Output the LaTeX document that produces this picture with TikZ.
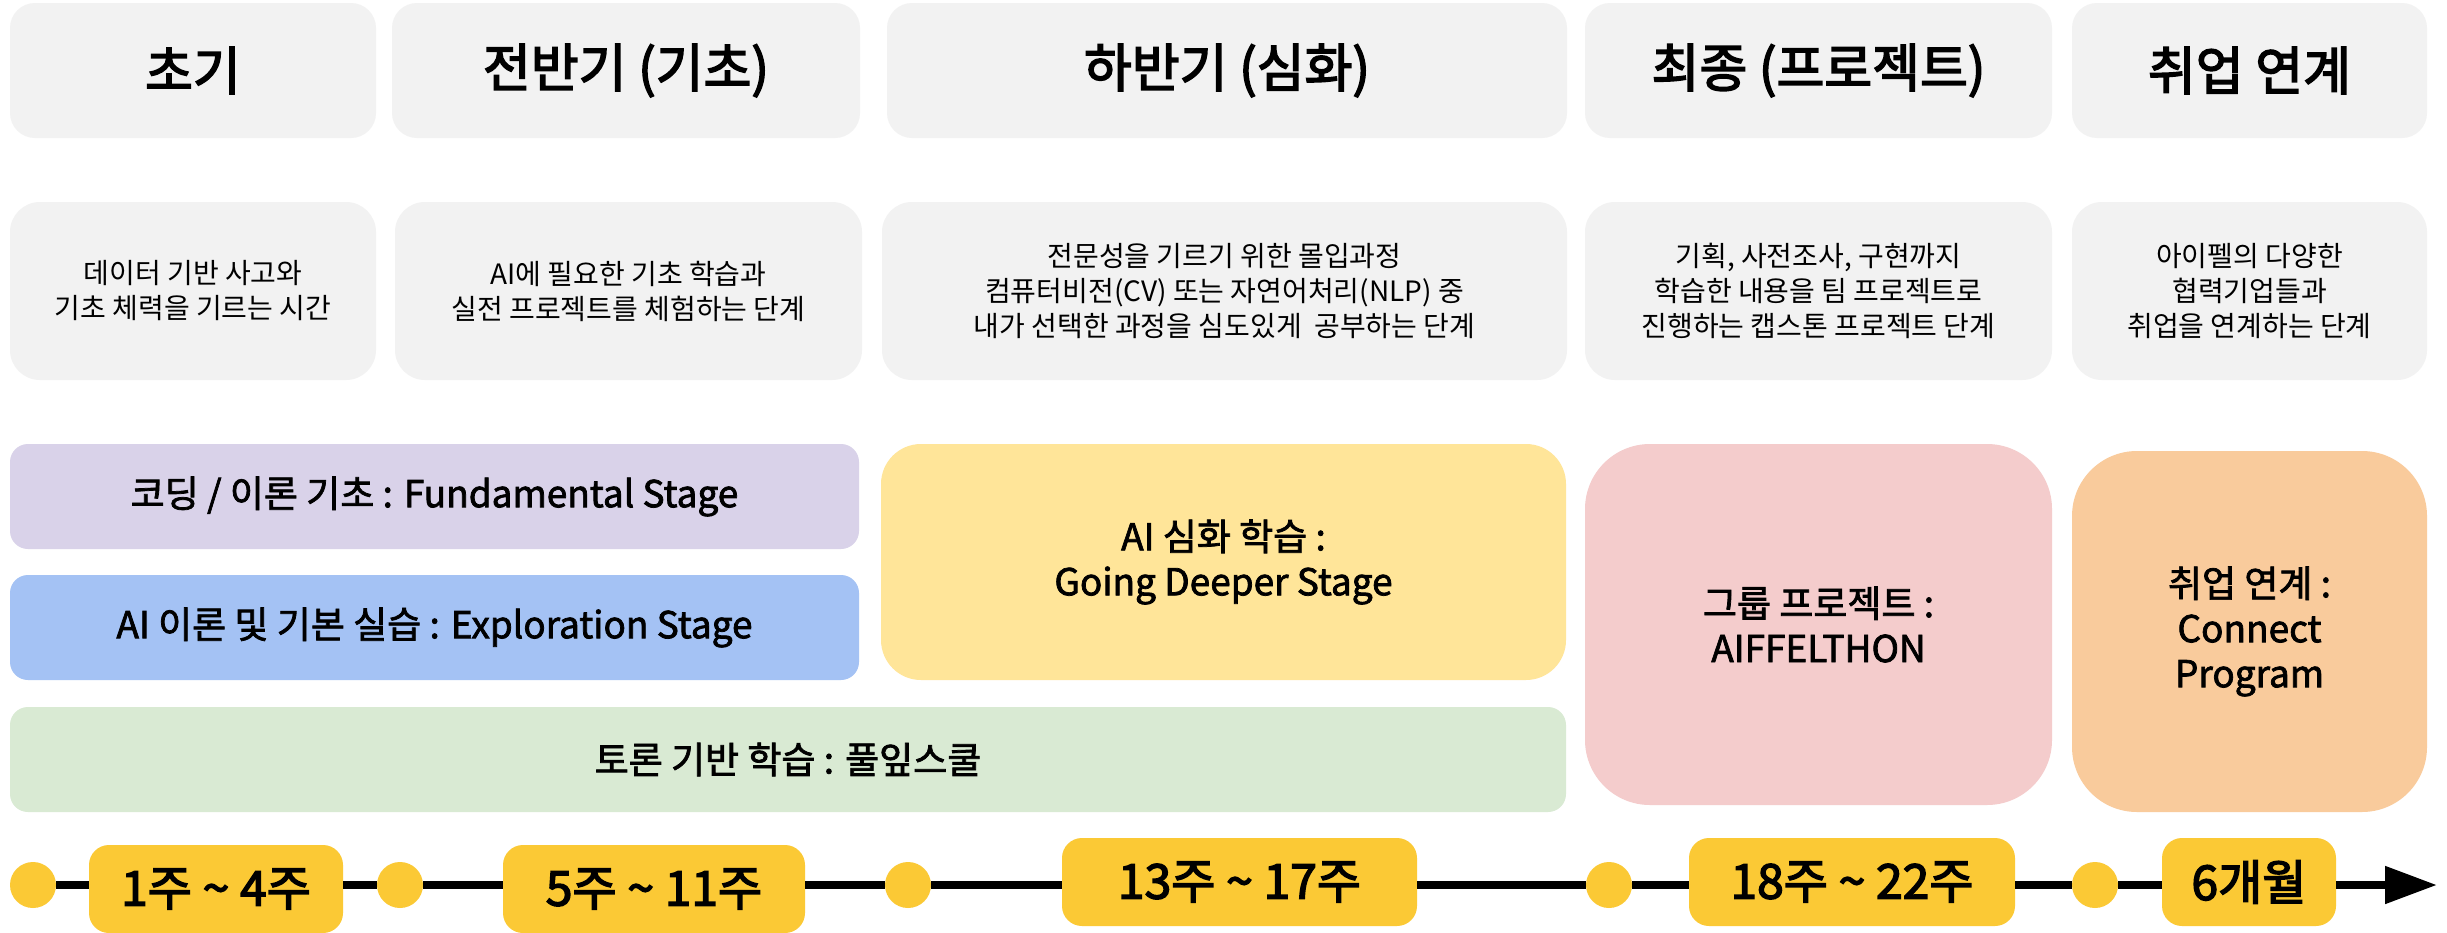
\documentclass[tikz,border=0pt]{standalone}
\usepackage{fontspec}
\setmainfont{Noto Sans CJK KR}
\newfontfamily\medA{Noto Sans CJK KR}[FakeBold=3]
\newfontfamily\medB{Noto Sans CJK KR}[FakeBold=2]
\usetikzlibrary{arrows.meta}
\definecolor{gbox}{HTML}{F2F2F2}
\definecolor{cpurple}{HTML}{D9D2E9}
\definecolor{cblue}{HTML}{A4C2F4}
\definecolor{cgreen}{HTML}{D9EAD3}
\definecolor{cyellow}{HTML}{FFE599}
\definecolor{cpink}{HTML}{F4CCCC}
\definecolor{corange}{HTML}{F9CB9C}
\definecolor{cgold}{HTML}{FBC935}
\begin{document}
\begin{tikzpicture}[x=1pt,y=-1pt,
  hdr/.style={fill=gbox, rounded corners=25pt, inner sep=0pt, minimum height=135pt,
    font=\fontsize{52}{60}\selectfont\medA},
  desc/.style={fill=gbox, rounded corners=30pt, inner sep=0pt, minimum height=178pt, align=center,
    font=\fontsize{28}{35}\selectfont},
  stage/.style={rounded corners=#1, inner sep=0pt, align=center,
    font=\fontsize{37}{45}\selectfont\medB},
  dot/.style={circle, fill=cgold, inner sep=0pt, minimum size=46pt},
  period/.style={fill=cgold, rounded corners=20pt, inner sep=0pt, minimum height=88pt,
    font=\fontsize{48}{54}\selectfont\medA},
  tline/.style={line width=8pt, draw=black}
]
\useasboundingbox (0,0) rectangle (2447,932);
\fill[white] (0,0) rectangle (2447,932);

% row 1
\node[hdr, minimum width=366pt] (h1) at (193,70.5) {초기};
\node[hdr, minimum width=468pt] (h2) at (626,70.5) {전반기 (기초)};
\node[hdr, minimum width=680pt] (h3) at (1227,70.5) {하반기 (심화)};
\node[hdr, minimum width=467pt] (h4) at (1818.5,70.5) {최종 (프로젝트)};
\node[hdr, minimum width=355pt] (h5) at (2249.5,70.5) {취업 연계};

% row 2
\node[desc, minimum width=366pt] (s1) at (193,291) {데이터 기반 사고와\\기초 체력을 기르는 시간};
\node[desc, minimum width=467pt] (s2) at (628.5,291) {AI에 필요한 기초 학습과\\실전 프로젝트를 체험하는 단계};
\node[desc, minimum width=685pt] (s3) at (1224.5,291) {전문성을 기르기 위한 몰입과정\\컴퓨터비전(CV) 또는 자연어처리(NLP) 중\\내가 선택한 과정을 심도있게\ \ 공부하는 단계};
\node[desc, minimum width=467pt] (s4) at (1818.5,291) {기획, 사전조사, 구현까지\\학습한 내용을 팀 프로젝트로\\진행하는 캡스톤 프로젝트 단계};
\node[desc, minimum width=355pt] (s5) at (2249.5,291) {아이펠의 다양한\\협력기업들과\\취업을 연계하는 단계};

% row 3
\node[stage=18pt, fill=cpurple, minimum width=849pt, minimum height=105pt] (p1) at (434.5,496.5) {코딩 / 이론 기초 : Fundamental Stage};
\node[stage=18pt, fill=cblue, minimum width=849pt, minimum height=105pt] (p2) at (434.5,627.5) {AI 이론 및 기본 실습 : Exploration Stage};
\node[stage=18pt, fill=cgreen, minimum width=1556pt, minimum height=105pt] (p3) at (788,759.5) {토론 기반 학습 : 풀잎스쿨};
\node[stage=40pt, fill=cyellow, minimum width=685pt, minimum height=236pt] (p4) at (1223.5,562) {AI 심화 학습 :\\Going Deeper Stage};
\node[stage=65pt, fill=cpink, minimum width=467pt, minimum height=361pt] (p5) at (1818.5,624.5) {그룹 프로젝트 :\\AIFFELTHON};
\node[stage=65pt, fill=corange, minimum width=355pt, minimum height=361pt] (p6) at (2249.5,631.5) {취업 연계 :\\Connect\\Program};

% timeline
\node[dot] (d1) at (33,885) {};
\node[dot] (d2) at (400,885) {};
\node[dot] (d3) at (908,885) {};
\node[dot] (d4) at (1609,885) {};
\node[dot] (d5) at (2095,885) {};
\node[period, minimum width=254pt] (l1) at (216,889) {1주 \textasciitilde{} 4주};
\node[period, minimum width=302pt] (l2) at (654,889) {5주 \textasciitilde{} 11주};
\node[period, minimum width=355pt] (l3) at (1239.5,882) {13주 \textasciitilde{} 17주};
\node[period, minimum width=326pt] (l4) at (1852,882) {18주 \textasciitilde{} 22주};
\node[period, minimum width=174pt] (l5) at (2249,882) {6개월};
\coordinate (tip) at (2437,885);

\draw[tline] (d1.east) -- (d1.east -| l1.west);
\draw[tline] (l1.east |- d1.east) -- (d2.west);
\draw[tline] (d2.east) -- (d2.east -| l2.west);
\draw[tline] (l2.east |- d2.east) -- (d3.west);
\draw[tline] (d3.east) -- (d3.east -| l3.west);
\draw[tline] (l3.east |- d3.east) -- (d4.west);
\draw[tline] (d4.east) -- (d4.east -| l4.west);
\draw[tline] (l4.east |- d4.east) -- (d5.west);
\draw[tline] (d5.east) -- (d5.east -| l5.west);
\draw[tline, -{Triangle[length=52pt,width=36pt]}] (l5.east |- d5.east) -- (tip);
\end{tikzpicture}
\end{document}
